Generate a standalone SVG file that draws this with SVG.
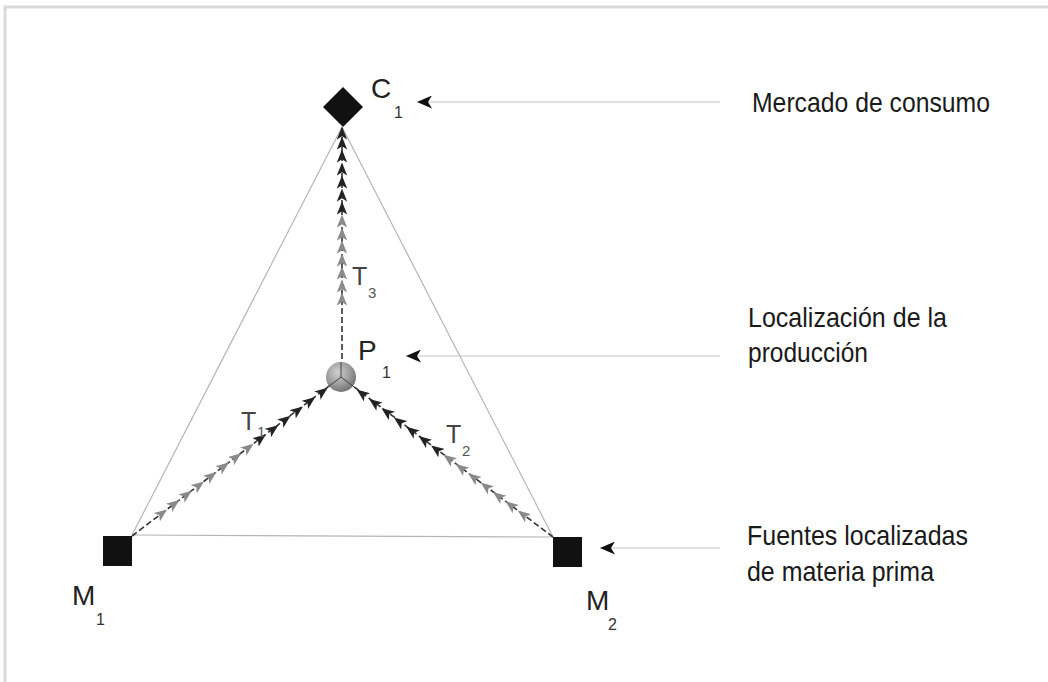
<svg xmlns="http://www.w3.org/2000/svg" width="1048" height="682" viewBox="0 0 1048 682">
<style>
.frame{fill:none;stroke:#d9d9d9;stroke-width:3}
.edge{fill:none;stroke:#b5b5b5;stroke-width:1.2}
.dash{fill:none;stroke:#333;stroke-width:1.6;stroke-dasharray:6 3}
.heads{fill:none;stroke:none}
.pointer{fill:none;stroke:#c4c4c4;stroke-width:1.2}
.node{fill:#111}
.lbl{font-family:"Liberation Sans",Arial,sans-serif;fill:#222;font-size:28px}
.sub{font-family:"Liberation Sans",Arial,sans-serif;fill:#333;font-size:16px}
.tl{font-family:"Liberation Sans",Arial,sans-serif;fill:#444;font-size:25px}
.tsub{font-family:"Liberation Sans",Arial,sans-serif;fill:#555;font-size:15px}
.desc{font-family:"Liberation Sans",Arial,sans-serif;fill:#1a1a1a;font-size:28px}
</style>
<defs>
<marker id="hd" markerUnits="userSpaceOnUse" markerWidth="13" markerHeight="11" refX="5" refY="4" orient="auto" viewBox="0 0 10 8">
<path d="M0,0 L10,4 L0,8 L2.5,4 Z" fill="#222"/>
</marker>
<marker id="hg" markerUnits="userSpaceOnUse" markerWidth="13" markerHeight="11" refX="5" refY="4" orient="auto" viewBox="0 0 10 8">
<path d="M0,0 L10,4 L0,8 L2.5,4 Z" fill="#8a8a8a"/>
</marker>
<marker id="ptr" markerUnits="userSpaceOnUse" markerWidth="15" markerHeight="13" refX="0" refY="6.5" orient="auto" viewBox="0 0 15 13">
<path d="M0,6.5 L15,0 L11,6.5 L15,13 Z" fill="#111"/>
</marker>
<radialGradient id="sph" cx="0.4" cy="0.35" r="0.7">
<stop offset="0" stop-color="#d0d0d0"/>
<stop offset="0.6" stop-color="#9a9a9a"/>
<stop offset="1" stop-color="#6e6e6e"/>
</radialGradient>
</defs>
<rect width="1048" height="682" fill="#fff"/>
<path class="frame" d="M5,700 L5,7 L1060,7"/>

<g id="connectors">
<path class="edge" d="M342,127 L132,535"/>
<path class="edge" d="M342,127 L553,537"/>
<path class="edge" d="M132,535 L553,537"/>
<path class="dash" d="M342,377 L342,128"/>
<path class="dash" d="M132,536 L341,377"/>
<path class="dash" d="M553,537 L341,377"/>
<polyline class="heads" marker-start="url(#hg)" marker-mid="url(#hg)" marker-end="url(#hg)" points="342,299 342,286 342,273 342,260 342,247 342,234 342,221"/>
<polyline class="heads" marker-start="url(#hd)" marker-mid="url(#hd)" marker-end="url(#hd)" points="342,208 342,195 342,182 342,169 342,156 342,143 342,133"/>
<polyline class="heads" marker-start="url(#hg)" marker-mid="url(#hg)" marker-end="url(#hg)" points="161.9,513.4 174.2,504.0 186.6,494.6 198.9,485.3 211.3,475.9 223.7,466.5 236.0,457.2 248.4,447.8"/>
<polyline class="heads" marker-start="url(#hd)" marker-mid="url(#hd)" marker-end="url(#hd)" points="260.7,438.5 273.1,429.1 285.4,419.7 297.8,410.4 310.1,401.0 322.5,391.6"/>
<polyline class="heads" marker-start="url(#hg)" marker-mid="url(#hg)" marker-end="url(#hg)" points="523.0,514.5 510.6,505.2 498.2,495.9 485.8,486.5 473.4,477.2 461.1,467.9 448.7,458.6"/>
<polyline class="heads" marker-start="url(#hd)" marker-mid="url(#hd)" marker-end="url(#hd)" points="436.3,449.3 423.9,440.0 411.5,430.7 399.1,421.4 386.7,412.1 374.3,402.8 361.9,393.5"/>
<path class="pointer" d="M417,102 L720,102" marker-start="url(#ptr)"/>
<path class="pointer" d="M406,356 L720,356" marker-start="url(#ptr)"/>
<path class="pointer" d="M600,548 L720,548" marker-start="url(#ptr)"/>
</g>

<g id="C1">
<polygon class="node" points="343,87 363,107 343,127 323,107"/>
<text class="lbl" x="371" y="98">C</text>
<text class="sub" x="394" y="118">1</text>
</g>
<g id="P1">
<circle cx="341" cy="377" r="15" fill="url(#sph)"/>
<path d="M341,377 L328,387 M341,377 L354,387 M341,377 L341,362" stroke="#444" stroke-width="1" fill="none"/>
<text class="lbl" x="358" y="360">P</text>
<text class="sub" x="382" y="378">1</text>
</g>
<g id="M1">
<rect class="node" x="103" y="536" width="29" height="30"/>
<text class="lbl" x="72" y="605">M</text>
<text class="sub" x="96" y="625">1</text>
</g>
<g id="M2">
<rect class="node" x="553" y="537" width="29" height="30"/>
<text class="lbl" x="586" y="610">M</text>
<text class="sub" x="608" y="630">2</text>
</g>
<g id="T-labels">
<text class="tl" x="352" y="285">T</text>
<text class="tsub" x="368" y="298">3</text>
<text class="tl" x="241" y="430">T</text>
<text class="tsub" x="257" y="437">1</text>
<text class="tl" x="446" y="443">T</text>
<text class="tsub" x="462" y="456">2</text>
</g>
<g id="descriptions">
<text class="desc" x="752" y="112" textLength="238" lengthAdjust="spacingAndGlyphs">Mercado de consumo</text>
<text class="desc" x="748" y="327" textLength="199" lengthAdjust="spacingAndGlyphs">Localización de la</text>
<text class="desc" x="748" y="362" textLength="120" lengthAdjust="spacingAndGlyphs">producción</text>
<text class="desc" x="747" y="545" textLength="221" lengthAdjust="spacingAndGlyphs">Fuentes localizadas</text>
<text class="desc" x="747" y="581" textLength="187" lengthAdjust="spacingAndGlyphs">de materia prima</text>
</g>
</svg>
